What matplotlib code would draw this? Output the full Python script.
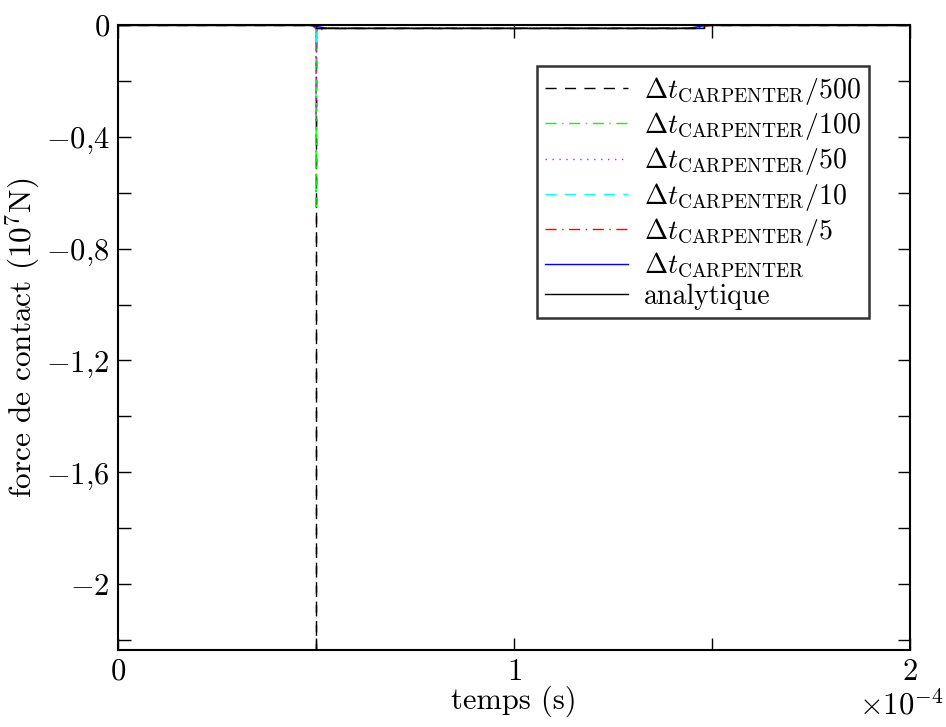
import numpy as np
import matplotlib as mpl
mpl.use('Agg')
import matplotlib.pyplot as plt
from matplotlib.ticker import MultipleLocator

mpl.rcParams['font.family'] = 'serif'
mpl.rcParams['font.serif'] = ['cmr10', 'DejaVu Serif']
mpl.rcParams['mathtext.fontset'] = 'cm'
mpl.rcParams['axes.unicode_minus'] = False

# time (s) and contact force (1e7 N) for each time step
t_500 = [0, 0.5e-4, 0.5e-4, 0.5e-4, 1.48e-4, 1.48e-4, 2e-4]
f_500 = [0, 0, -2.4, -0.011, -0.011, 0, 0]
t_100 = [0, 0.5e-4, 0.5e-4, 0.501e-4, 1.48e-4, 1.482e-4, 2e-4]
f_100 = [0, 0, -0.65, -0.011, -0.011, 0, 0]
t_50 = [0, 0.5e-4, 0.5e-4, 0.502e-4, 1.48e-4, 1.485e-4, 2e-4]
f_50 = [0, 0, -0.34, -0.011, -0.011, 0, 0]
t_10 = [0, 0.5e-4, 0.5e-4, 0.505e-4, 1.47e-4, 1.49e-4, 2e-4]
f_10 = [0, 0, -0.06, -0.012, -0.011, 0, 0]
t_5 = [0, 0.49e-4, 0.505e-4, 0.53e-4, 1.46e-4, 1.5e-4, 2e-4]
f_5 = [0, 0, -0.02, -0.011, -0.011, 0, 0]
t_carp = [0, 0.48e-4, 0.53e-4, 1.44e-4, 1.49e-4, 2e-4]
f_carp = [0, 0, -0.012, -0.012, 0, 0]
t_ana = [0, 0.5e-4, 0.5e-4, 1.48e-4, 1.48e-4, 2e-4]
f_ana = [0, 0, -0.011, -0.011, 0, 0]

labels = [r'$\Delta t_{\mathrm{CARPENTER}}/500$',
          r'$\Delta t_{\mathrm{CARPENTER}}/100$',
          r'$\Delta t_{\mathrm{CARPENTER}}/50$',
          r'$\Delta t_{\mathrm{CARPENTER}}/10$',
          r'$\Delta t_{\mathrm{CARPENTER}}/5$',
          r'$\Delta t_{\mathrm{CARPENTER}}$',
          'analytique']

yticks = [0, -0.4, -0.8, -1.2, -1.6, -2.0]
ytick_labels = ['$0$', '$-0{,}4$', '$-0{,}8$', '$-1{,}2$', '$-1{,}6$', '$-2$']
xticks = [0, 1e-4, 2e-4]
xtick_labels = ['$0$', '$1$', '$2$']

fig = plt.figure(figsize=(9.46, 7.27), dpi=100)
ax = fig.add_axes([0.1247, 0.1059, 0.8372, 0.8597])

lw = 1.0
ax.plot(t_500, f_500, color='k', ls=(0, (8, 6)), lw=lw, label=labels[0])
ax.plot(t_100, f_100, color='#00ff00', ls=(0, (8, 4, 1, 4)), lw=lw, label=labels[1])
ax.plot(t_50, f_50, color='#ff00ff', ls=(0, (1, 4)), lw=lw, label=labels[2])
ax.plot(t_10, f_10, color='#00ffff', ls=(0, (8, 6)), lw=lw, label=labels[3])
ax.plot(t_5, f_5, color='#ff0000', ls=(0, (8, 4, 1, 4)), lw=lw, label=labels[4])
ax.plot(t_carp, f_carp, color='#0000ff', ls='-', lw=lw, label=labels[5])
ax.plot(t_ana, f_ana, color='k', ls='-', lw=lw, label=labels[6])

ax.set_xlim(0, 2e-4)
ax.set_ylim(-2.236, 0)
ax.set_xticks(xticks)
ax.set_xticklabels(xtick_labels, fontsize=22)
ax.xaxis.set_minor_locator(MultipleLocator(0.5e-4))
ax.set_yticks(yticks)
ax.set_yticklabels(ytick_labels, fontsize=22)
ax.yaxis.set_minor_locator(MultipleLocator(0.2))
ax.tick_params(which='both', direction='in', top=True, right=True,
               length=9, width=1.0, pad=6)
for s in ax.spines.values():
    s.set_linewidth(1.5)

ax.set_xlabel('temps (s)', fontsize=22, labelpad=0)
ax.set_ylabel('force de contact (10$^7$N)', fontsize=22.5, labelpad=3)
fig.text(0.997, 0.030, r'$\times10^{-4}$', fontsize=22, ha='right', va='center')

leg = ax.legend(loc='upper right', bbox_to_anchor=(0.948, 0.934), fontsize=20,
                frameon=True, fancybox=False, edgecolor='k',
                handlelength=3.0, labelspacing=0.12, borderpad=0.3,
                handletextpad=0.55, borderaxespad=0)
leg.get_frame().set_linewidth(1.8)

fig.savefig('out.png', dpi=100)
